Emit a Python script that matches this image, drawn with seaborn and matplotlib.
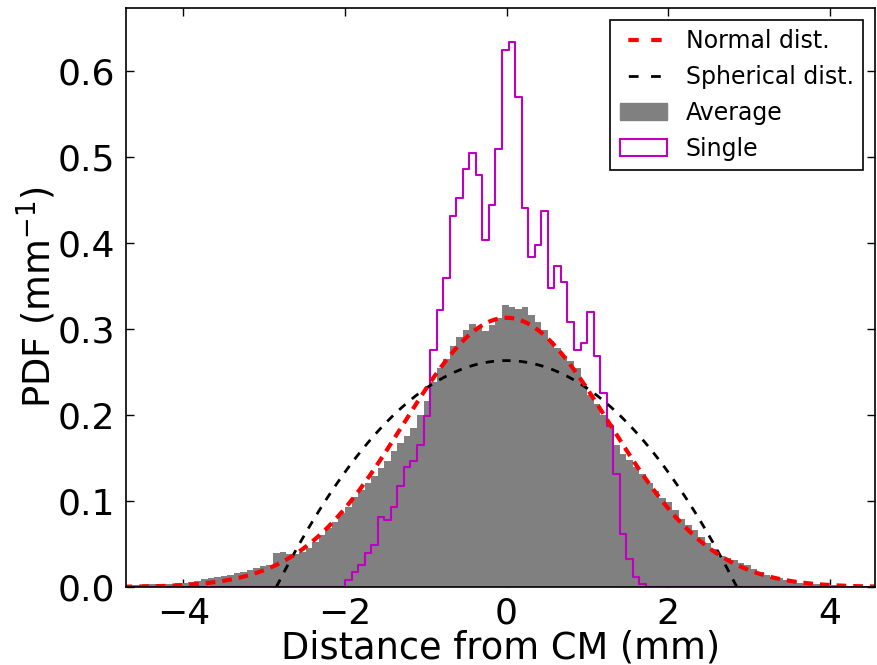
import matplotlib
matplotlib.use("Agg")
import matplotlib.pyplot as plt
from matplotlib.lines import Line2D
from matplotlib.patches import Patch
import numpy as np
import pandas as pd
import seaborn as sns

# histogram bins (mm)
bin_start = -4.754
bin_width = 0.081

# averaged PDF, one value per bin
average_pdf = [
    0.002, 0.002, 0.002, 0.003, 0.003, 0.003, 0.004, 0.004,
    0.005, 0.005, 0.006, 0.007,
    0.009, 0.010, 0.012, 0.013, 0.014, 0.016,
    0.018, 0.020, 0.022, 0.024, 0.026,
    0.040, 0.041,
    0.038, 0.038, 0.041, 0.045,
    0.052, 0.060, 0.068, 0.076, 0.086, 0.093, 0.105, 0.113, 0.121, 0.129,
    0.138, 0.146, 0.158, 0.167, 0.175, 0.185, 0.200,
    0.216, 0.238, 0.255, 0.265, 0.280, 0.290, 0.299, 0.306, 0.302, 0.297,
    0.305, 0.313, 0.328, 0.325, 0.323, 0.325, 0.316, 0.308, 0.299, 0.286,
    0.278, 0.269,
    0.263, 0.255, 0.236, 0.223, 0.213, 0.200, 0.190, 0.165, 0.155, 0.148,
    0.140, 0.131, 0.121, 0.112, 0.104, 0.099, 0.089, 0.079, 0.072, 0.066,
    0.058, 0.051, 0.044,
    0.036, 0.034, 0.031, 0.028, 0.025, 0.021, 0.018, 0.014, 0.012, 0.010,
    0.008, 0.007, 0.005, 0.004, 0.004, 0.003, 0.003, 0.002, 0.002, 0.001,
    0.001, 0.001, 0.001, 0.001,
]

# single-event PDF, non-zero bins only, starting at bin index single_first_bin
single_first_bin = 34
single_pdf = [
    0.0085, 0.017, 0.025, 0.040, 0.049, 0.081, 0.078, 0.093, 0.117, 0.140,
    0.146, 0.165, 0.199, 0.276, 0.322, 0.359, 0.431, 0.452, 0.486, 0.505,
    0.479, 0.403, 0.444, 0.509, 0.624, 0.633, 0.570, 0.440, 0.384, 0.398,
    0.437, 0.347, 0.373, 0.355, 0.308, 0.276, 0.284, 0.320, 0.268, 0.225,
    0.187, 0.131, 0.062, 0.032, 0.012, 0.004,
]

# model parameters (mm)
normal_sigma = 1.275
sphere_radius = 2.85

x_ticks = [-4, -2, 0, 2, 4]
y_ticks = [0.0, 0.1, 0.2, 0.3, 0.4, 0.5, 0.6]

sns.set_style("ticks", {"xtick.direction": "in", "ytick.direction": "in"})
plt.rcParams["font.family"] = ["DejaVu Sans"]
plt.rcParams["lines.scale_dashes"] = False
for key in ["text.color", "axes.labelcolor", "xtick.color", "ytick.color"]:
    plt.rcParams[key] = "black"

n_bins = len(average_pdf)
edges = bin_start + bin_width * np.arange(n_bins + 1)
centers = 0.5 * (edges[:-1] + edges[1:])
single_full = np.zeros(n_bins)
single_full[single_first_bin:single_first_bin + len(single_pdf)] = single_pdf

df = pd.DataFrame({"x": centers, "average": average_pdf, "single": single_full})

fig = plt.figure(figsize=(8.77, 6.65), dpi=100)
ax = fig.add_axes([0.1437, 0.1173, 0.854, 0.8707])

sns.histplot(data=df, x="x", weights="average", bins=list(edges), element="step",
             fill=True, color="#808080", alpha=1.0, linewidth=0, ax=ax)
sns.histplot(data=df, x="x", weights="single", bins=list(edges), element="step",
             fill=False, color="#bf00bf", linewidth=1.5, ax=ax)

xs = np.linspace(edges[0], edges[-1], 600)
normal = np.exp(-xs ** 2 / (2 * normal_sigma ** 2)) / (normal_sigma * np.sqrt(2 * np.pi))
xsph = np.linspace(-sphere_radius, sphere_radius, 400)
sphere = 3.0 / (4 * sphere_radius) * (1 - (xsph / sphere_radius) ** 2)

sns.lineplot(x=xsph, y=sphere, color="black", linewidth=2,
             linestyle=(0, (6, 6)), ax=ax)
sns.lineplot(x=xs, y=normal, color="red", linewidth=3,
             linestyle=(0, (7, 5)), ax=ax)

ax.set_xlim(-4.71, 4.56)
ax.set_ylim(0, 0.673)
ax.set_xticks(x_ticks)
ax.set_yticks(y_ticks)
ax.set_yticklabels([f"{v:.1f}" for v in y_ticks])
ax.tick_params(axis="both", which="major", labelsize=26, length=6, width=1,
               top=True, right=True, color="black", labelcolor="black")
ax.tick_params(axis="x", pad=7)
ax.tick_params(axis="y", pad=8)
for s in ax.spines.values():
    s.set_color("black")
    s.set_linewidth(1.2)
ax.set_xlabel("Distance from CM (mm)", fontsize=26.5, labelpad=-1)
ax.set_ylabel("PDF (mm$^{-1}$)", fontsize=26.5, labelpad=-1)

handles = [
    Line2D([], [], color="red", linewidth=3, linestyle=(0, (0.0001, 6, 7.5, 9, 7.5, 10))),
    Line2D([], [], color="black", linewidth=2, linestyle=(0, (0.0001, 6, 7, 9, 7, 10))),
    Patch(facecolor="#808080", edgecolor="#808080"),
    Patch(facecolor="white", edgecolor="#bf00bf", linewidth=1.5),
]
labels = ["Normal dist.", "Spherical dist.", "Average", "Single"]
leg = ax.legend(handles, labels, loc="upper right", fontsize=17,
                fancybox=False, framealpha=1, edgecolor="black",
                handlelength=2, handletextpad=0.8, borderaxespad=0.5)
leg.get_frame().set_linewidth(1.2)

plt.savefig("out.png", dpi=100)
